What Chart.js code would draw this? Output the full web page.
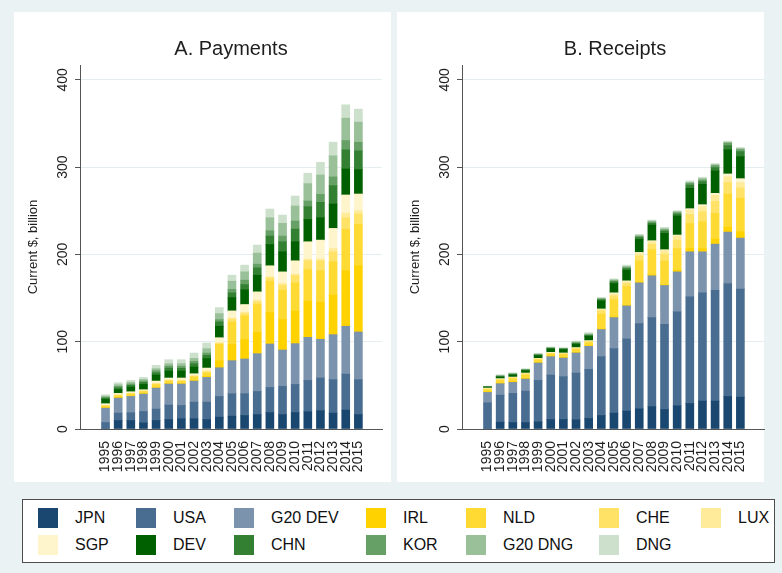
<!DOCTYPE html>
<html>
<head>
<meta charset="utf-8">
<script src="https://cdn.jsdelivr.net/npm/chart.js@4.4.1/dist/chart.umd.min.js"></script>
<style>
  body { margin: 0; background: #eaf2f3; font-family: "Liberation Sans", Arial, sans-serif; }
  #wrap { position: relative; width: 782px; height: 573px; overflow: hidden; }
  .panel { position: absolute; background: #fff; top: 12px; height: 470px; }
  canvas { position: absolute; top: 0; }
  .ptitle { position: absolute; top: 37px; width: 302px; text-align: center; font-size: 20px; color: #1e1e1e; }
  #legend { position: absolute; left: 22px; top: 499px; width: 753px; height: 64px; background: #fff; border: 1px solid #4d4d4d; box-sizing: border-box; }
  .item { position: absolute; height: 20px; line-height: 20px; font-size: 16px; color: #111; white-space: nowrap; }
  .sw { position: absolute; left: 0; top: 0; width: 20px; height: 20px; }
  .item span { position: absolute; left: 37px; top: 0; }
</style>
</head>
<body>
<div id="wrap">
  <div class="panel" style="left:14px;width:377px"></div>
  <div class="panel" style="left:397px;width:367px"></div>
  <canvas id="pay" width="391" height="490" style="left:0"></canvas>
  <canvas id="rec" width="391" height="490" style="left:382px"></canvas>
  <div class="ptitle" style="left:80px">A. Payments</div>
  <div class="ptitle" style="left:464px">B. Receipts</div>
  <div id="legend"></div>
</div>
<script>
const years = [1995, 1996, 1997, 1998, 1999, 2000, 2001, 2002, 2003, 2004, 2005,
  2006, 2007, 2008, 2009, 2010, 2011, 2012, 2013, 2014, 2015];
const yTicks = [0, 100, 200, 300, 400];
const seriesNames = ["JPN", "USA", "G20 DEV", "IRL", "NLD", "CHE", "LUX",
  "SGP", "DEV", "CHN", "KOR", "G20 DNG", "DNG"];
const seriesColors = ["#1a476f", "#486d91", "#7b93ad", "#ffd200", "#ffda33", "#ffe266", "#ffeb99",
  "#fff5cc", "#006000", "#338033", "#66a066", "#99c099", "#cce0cc"];

// A. Payments, current $ billion
const pJPN = [0, 9.8, 9.8, 7, 9.8, 10.9, 11.7, 11.7, 10.9, 13.6, 14.7, 15.5, 16.6, 18.9, 16.6, 18.9, 19.7, 20.9, 18.2, 21.6, 16.6];
const pUSA = [7.5, 8.4, 8.8, 13.1, 13, 16.5, 15.3, 19.1, 19.9, 23.7, 25.7, 24.9, 26.4, 28.7, 32.2, 32.2, 36, 37.5, 38.3, 41.3, 39.9];
const pG20DEV = [16.4, 17.2, 18.7, 19.9, 24.1, 24.1, 24.5, 24.1, 28.3, 32.9, 37.9, 39.8, 43.3, 49.8, 41.7, 46.7, 49.3, 44.4, 51.6, 54.8, 54.7];
const pIRL = [0.6, 0.8, 0.4, 0.4, 0.4, 0.4, 0.4, 0.8, 1.2, 8, 18.3, 22.2, 24.1, 36, 34.8, 37.1, 41.4, 42.4, 45.2, 63.5, 75.7];
const pNLD = [1.8, 1.9, 2.3, 2.3, 3.4, 3, 2.6, 3.8, 3.8, 18.8, 26, 27.1, 32.2, 35.9, 33.7, 32.5, 36.3, 36, 38.2, 47.5, 47.5];
const pCHE = [0.5, 0.7, 0.7, 0.7, 1, 0.8, 1, 1, 1.5, 1, 3.1, 2.7, 3, 3.9, 5.8, 8.4, 10, 11.5, 11.5, 13.3, 11.9];
const pLUX = [0.2, 0.4, 0.4, 0.4, 0.5, 0.4, 0.6, 0.5, 0.8, 1, 1.6, 1.6, 1.9, 1.1, 1.9, 1.6, 1.9, 1.9, 3.8, 5.4, 3.8];
const pSGP = [2, 1.6, 1.6, 1.2, 2.7, 2.3, 2.3, 2.3, 3.4, 5.6, 8, 8.8, 9.6, 12.7, 13.3, 15.3, 19.9, 21.8, 23, 20.7, 19.1];
const pDEV = [4.9, 4.5, 5.3, 6.1, 6.9, 8, 8, 7.7, 10.8, 13.1, 15.3, 16.8, 19.1, 24.4, 23, 21.8, 25.6, 25.6, 27.9, 29.8, 28];
const pCHN = [1.5, 2, 2, 2.3, 2.7, 3.4, 3.1, 3.8, 3.8, 5, 5.4, 6.1, 8.4, 9.6, 11.5, 14.5, 14.6, 17.7, 21.1, 21.9, 21.4];
const pKOR = [0.8, 1.5, 1.5, 1.5, 2.3, 2.3, 2.3, 2.7, 2.6, 2.6, 4, 5, 4.2, 6.1, 6.5, 9.2, 6.5, 9.1, 10, 10.7, 9.9];
const pG20DNG = [1.5, 1.9, 1.9, 1.9, 2.3, 2.7, 3, 3.4, 5, 6.9, 9.3, 9.5, 12.7, 14.9, 14.6, 17.3, 19.9, 22.2, 24.1, 25.6, 23];
const pDNG = [1.5, 2.3, 2.3, 2.3, 3.8, 4.6, 4.6, 6.1, 6.5, 6.9, 6.9, 7.7, 9.2, 10, 9.5, 11.4, 11.9, 14.5, 15.7, 15.3, 14.9];

// B. Receipts, current $ billion
const rJPN = [0, 7.8, 7.5, 7.5, 8.2, 10.9, 10.9, 10.5, 12.1, 15.5, 18.2, 20.5, 23.1, 25.8, 22.4, 26.6, 29.3, 32, 32, 37.3, 36.5];
const rUSA = [30, 31, 33.3, 35.9, 47.5, 50.9, 49, 53.6, 56.2, 67.4, 73.8, 82.7, 97.6, 101.8, 97.6, 107.5, 122, 123.9, 127, 129.4, 123.7];
const rG20DEV = [11.9, 13.1, 12.6, 13.8, 19.9, 21.1, 21.4, 23, 26.4, 31, 35.6, 37.8, 46.7, 47.9, 44.4, 45.9, 51.7, 47.1, 52.8, 58.9, 58.5];
const rIRL = [0.8, 0.7, 1.1, 0.8, 0.7, 0.7, 0.8, 0.7, 0.8, 0.7, 0.8, 0.8, 0.8, 1.1, 0.7, 2, 3.8, 3.8, 5.7, 5.7, 7.3];
const rNLD = [2.3, 3.1, 3.1, 3.8, 2.7, 2.3, 3.4, 3.1, 3.4, 17, 19.9, 21.1, 24.5, 29.1, 27.2, 24.8, 28.7, 30.6, 29.5, 37.9, 38.3];
const rCHE = [0.7, 1, 1, 1.3, 1.1, 0.8, 0.8, 1.3, 1.3, 4, 4.1, 3.8, 5.6, 5.9, 7.9, 9.5, 10.2, 11.5, 13.8, 13.3, 11.9];
const rLUX = [0.4, 0.5, 0.5, 0.6, 0.5, 0.4, 0.4, 0.6, 0.6, 1.2, 2, 1.9, 2.8, 2.9, 4, 4.7, 5.1, 5.8, 6.9, 6.6, 6];
const rSGP = [0.8, 0.4, 0.4, 0.4, 0.3, 0.7, 0.4, 0.4, 0.4, 0.7, 1.6, 1.1, 1.2, 1.2, 1.2, 1.2, 1.6, 2.3, 2.3, 3.1, 4.6];
const rDEV = [1.1, 1.9, 2.3, 2.7, 3.1, 3.9, 3.8, 3.8, 5, 9.2, 10.7, 12.3, 14.9, 17.9, 18.7, 21.8, 23.3, 23.3, 25.6, 27.6, 25.3];
const rCHN = [0.3, 0.8, 0.8, 0.7, 0.8, 0.7, 0.8, 1.2, 1.1, 1.5, 1.9, 1.9, 2.3, 2, 2.6, 2.3, 3.8, 3.1, 3.8, 4.9, 5.7];
const rKOR = [0.2, 0.4, 0.4, 0.4, 0.4, 0.4, 0.3, 0.7, 0.8, 0.8, 1.1, 1.1, 1.1, 1.5, 1.6, 1.5, 2, 1.9, 2.3, 2.7, 2.3];
const rG20DNG = [0.3, 0.7, 0.7, 0.4, 0.7, 0.4, 0.4, 0.8, 0.8, 0.8, 1.2, 1.2, 1.2, 1.1, 1.1, 1.2, 1.1, 1.5, 1.2, 1.1, 1.2];
const rDNG = [0.4, 0.8, 0.8, 0.8, 0.8, 0.8, 0.8, 1.1, 1.5, 0.8, 1.1, 1.5, 1.2, 1.2, 1.6, 1.1, 1.6, 1.6, 1.1, 1.2, 1.1];

const payments = [pJPN, pUSA, pG20DEV, pIRL, pNLD, pCHE, pLUX, pSGP, pDEV, pCHN, pKOR, pG20DNG, pDNG];
const receipts = [rJPN, rUSA, rG20DEV, rIRL, rNLD, rCHE, rLUX, rSGP, rDEV, rCHN, rKOR, rG20DNG, rDNG];

// rotated y tick labels and axis title, Stata style
const vertLabels = {
  id: "vertLabels",
  afterDraw(chart) {
    const ctx = chart.ctx;
    const ys = chart.scales.y;
    ctx.save();
    ctx.fillStyle = "#1e1e1e";
    ctx.textAlign = "center";
    ctx.textBaseline = "middle";
    ctx.font = '14px "Liberation Sans"';
    ys.ticks.forEach(t => {
      ctx.save();
      ctx.translate(ys.right - 17, ys.getPixelForValue(t.value));
      ctx.rotate(-Math.PI / 2);
      ctx.fillText(String(t.value), 0, 0);
      ctx.restore();
    });
    ctx.font = '13px "Liberation Sans"';
    ctx.translate(ys.right - 47, (chart.chartArea.top + chart.chartArea.bottom) / 2);
    ctx.rotate(-Math.PI / 2);
    ctx.fillText("Current $, billion", 0, 0);
    ctx.restore();
  }
};

function makeChart(id, values) {
  const datasets = seriesNames.map((name, i) => ({
    label: name,
    data: values[i].map((v, j) => ({ x: years[j], y: v })),
    backgroundColor: seriesColors[i],
    borderWidth: 0,
    barThickness: 8
  }));
  return new Chart(document.getElementById(id), {
    type: "bar",
    data: { datasets: datasets },
    plugins: [vertLabels],
    options: {
      responsive: false,
      animation: false,
      layout: { padding: { left: 0, right: 9, top: 65, bottom: 0 } },
      plugins: { legend: { display: false }, tooltip: { enabled: false } },
      scales: {
        x: {
          type: "linear",
          stacked: true,
          min: 1993.55,
          max: 2016.3,
          afterBuildTicks: s => { s.ticks = years.map(v => ({ value: v })); },
          afterFit: s => { s.height = 61; },
          grid: { display: false },
          border: { display: true, color: "#555", width: 1 },
          ticks: {
            autoSkip: false,
            minRotation: 90,
            maxRotation: 90,
            padding: 4,
            color: "#1e1e1e",
            font: { family: "Liberation Sans", size: 14 },
            callback: v => String(v)
          }
        },
        y: {
          stacked: true,
          min: 0,
          max: 417,
          afterBuildTicks: s => { s.ticks = yTicks.map(v => ({ value: v })); },
          afterFit: s => { s.width = 80; },
          grid: { color: "#e4edf0", lineWidth: 1, tickLength: 5, tickColor: "#555" },
          border: { display: true, color: "#555", width: 1 },
          ticks: { display: false }
        }
      }
    }
  });
}

makeChart("pay", payments);
makeChart("rec", receipts);

// legend, Stata layout: 7 columns, 2 rows
const legendCols = [15, 113, 211, 343, 443, 576, 678];
const legend = document.getElementById("legend");
seriesNames.forEach((name, i) => {
  const row = Math.floor(i / 7), col = i % 7;
  const el = document.createElement("div");
  el.className = "item";
  el.style.left = legendCols[col] + "px";
  el.style.top = (8 + row * 27) + "px";
  el.innerHTML = '<div class="sw" style="background:' + seriesColors[i] + '"></div><span>' + name + "</span>";
  legend.appendChild(el);
});
</script>
</body>
</html>
